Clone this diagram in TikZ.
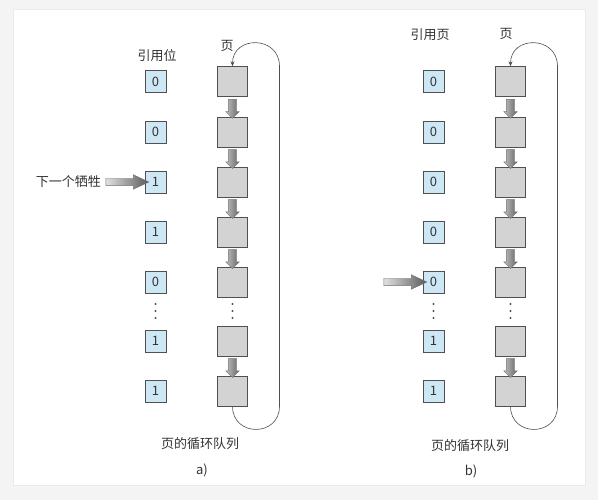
\documentclass[tikz,border=0pt]{standalone}
\usepackage{fontspec}
\setmainfont{Noto Sans CJK SC}
\usetikzlibrary{positioning, shapes.arrows, arrows.meta, calc}
\definecolor{BitBlue}{RGB}{206,231,245}
\definecolor{PageGray}{RGB}{211,211,211}
\definecolor{EdgeGray}{RGB}{80,80,80}
\definecolor{PaperGray}{RGB}{244,244,244}

\begin{document}
\begin{tikzpicture}[x=1pt, y=-1pt,
  bit/.style={rectangle, draw=EdgeGray, fill=BitBlue, minimum width=21pt, minimum height=22pt, inner sep=0pt, font=\fontsize{13}{15}\selectfont, text=black!80},
  page/.style={rectangle, draw=EdgeGray, fill=PageGray, minimum size=30pt, inner sep=0pt},
  flow/.style={single arrow, draw=black!55, left color=black!25, right color=black!60, minimum height=19pt, inner sep=4pt, single arrow head extend=2.5pt, rotate=-90},
  victim/.style={single arrow, draw=black!55, left color=black!12, right color=black!65, minimum height=43pt, inner sep=3.5pt, single arrow head extend=3.5pt, single arrow tip angle=50},
  ring/.style={semithick, EdgeGray, -{Stealth[length=5pt, width=4pt]}},
  txt/.style={font=\fontsize{13}{15}\selectfont, text=black!80, inner sep=1pt}
]
\useasboundingbox (0,0) rectangle (598,500);
\fill[PaperGray] (0,0) rectangle (598,500);
\draw[black!8, fill=white] (13,9) rectangle (585,485);

% a) clock with the pointer on a set bit
\node[txt] (refhda) at (157,56) {引用位};
\node[txt] (pghda) at (227,46) {页};

\node[bit] (bita1) at (155.5,81.5) {0};
\node[bit] (bita2) at (155.5,132) {0};
\node[bit] (bita3) at (155.5,182) {1};
\node[bit] (bita4) at (155.5,232) {1};
\node[bit] (bita5) at (155.5,282) {0};
\node[bit] (bita6) at (155.5,341) {1};
\node[bit] (bita7) at (155.5,391) {1};

\node[page] (pga1) at (232.5,81.5) {};
\node[page] (pga2) at (232.5,132) {};
\node[page] (pga3) at (232.5,182) {};
\node[page] (pga4) at (232.5,232) {};
\node[page] (pga5) at (232.5,282) {};
\node[page] (pga6) at (232.5,341) {};
\node[page] (pga7) at (232.5,391) {};

\path (pga1) -- node[flow] (fa1) {} (pga2);
\path (pga2) -- node[flow] (fa2) {} (pga3);
\path (pga3) -- node[flow] (fa3) {} (pga4);
\path (pga4) -- node[flow] (fa4) {} (pga5);
\path (pga6) -- node[flow] (fa6) {} (pga7);

\fill[EdgeGray] (155.5,304) circle (1.1pt) (155.5,311) circle (1.1pt) (155.5,318) circle (1.1pt);
\fill[EdgeGray] (232.5,304) circle (1.1pt) (232.5,311) circle (1.1pt) (232.5,318) circle (1.1pt);

\draw[ring] (pga7.south) .. controls +(0,31) and +(0,31) .. ($(pga7.south)+(47,0)$)
  -- ($(pga1.north)+(47,0)$) .. controls +(0,-31) and +(0,-31) .. (pga1.north);

\node[txt, anchor=east] (victa) at (102,182) {下一个牺牲};
\path (victa) -- node[victim] (va) {} (bita3);

\node[txt] (capa) at (200,444) {页的循环队列};
\node[txt] (suba) at (202,470) {a)};

% b) all bits cleared on the way round
\node[txt] (refhdb) at (430,35) {引用页};
\node[txt] (pghdb) at (506,34) {页};

\node[bit] (bitb1) at (433.5,81.5) {0};
\node[bit] (bitb2) at (433.5,132) {0};
\node[bit] (bitb3) at (433.5,182) {0};
\node[bit] (bitb4) at (433.5,232) {0};
\node[bit] (bitb5) at (433.5,282) {0};
\node[bit] (bitb6) at (433.5,341) {1};
\node[bit] (bitb7) at (433.5,391) {1};

\node[page] (pgb1) at (510.5,81.5) {};
\node[page] (pgb2) at (510.5,132) {};
\node[page] (pgb3) at (510.5,182) {};
\node[page] (pgb4) at (510.5,232) {};
\node[page] (pgb5) at (510.5,282) {};
\node[page] (pgb6) at (510.5,341) {};
\node[page] (pgb7) at (510.5,391) {};

\path (pgb1) -- node[flow] (fb1) {} (pgb2);
\path (pgb2) -- node[flow] (fb2) {} (pgb3);
\path (pgb3) -- node[flow] (fb3) {} (pgb4);
\path (pgb4) -- node[flow] (fb4) {} (pgb5);
\path (pgb6) -- node[flow] (fb6) {} (pgb7);

\fill[EdgeGray] (433.5,304) circle (1.1pt) (433.5,311) circle (1.1pt) (433.5,318) circle (1.1pt);
\fill[EdgeGray] (510.5,304) circle (1.1pt) (510.5,311) circle (1.1pt) (510.5,318) circle (1.1pt);

\draw[ring] (pgb7.south) .. controls +(0,31) and +(0,31) .. ($(pgb7.south)+(47,0)$)
  -- ($(pgb1.north)+(47,0)$) .. controls +(0,-31) and +(0,-31) .. (pgb1.north);

\coordinate (tailb) at (380,282);
\path (tailb) -- node[victim] (vb) {} (bitb5);

\node[txt] (capb) at (470,446) {页的循环队列};
\node[txt] (subb) at (471,471) {b)};

\end{tikzpicture}
\end{document}
